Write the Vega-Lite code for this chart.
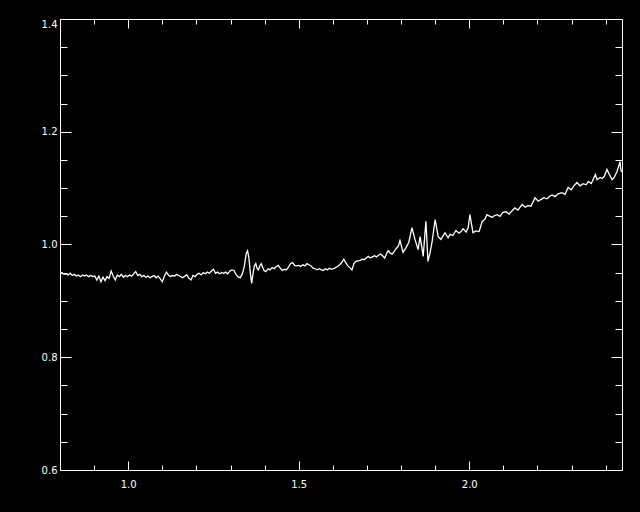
{
  "$schema": "https://vega.github.io/schema/vega-lite/v6.json",
  "width": 562,
  "height": 451,
  "autosize": {"type": "none"},
  "padding": {"left": 60, "top": 19, "right": 18, "bottom": 42},
  "background": "black",
  "config": {
    "view": {"stroke": null},
    "axis": {
      "domainColor": "white", "tickColor": "white", "labelColor": "white",
      "labelFont": "DejaVu Sans", "labelFontSize": 10, "grid": false,
      "domainWidth": 1, "tickWidth": 1, "labelOverlap": false, "labelFlush": false, "title": null
    }
  },
  "data": {"values": [
    {"x":0.800,"y":0.949},{"x":0.806,"y":0.950},{"x":0.812,"y":0.947},{"x":0.818,"y":0.948},{"x":0.824,"y":0.946},
    {"x":0.830,"y":0.949},{"x":0.836,"y":0.945},{"x":0.842,"y":0.947},{"x":0.848,"y":0.944},{"x":0.854,"y":0.946},
    {"x":0.860,"y":0.943},{"x":0.866,"y":0.946},{"x":0.872,"y":0.944},{"x":0.878,"y":0.946},{"x":0.884,"y":0.943},
    {"x":0.890,"y":0.945},{"x":0.896,"y":0.943},{"x":0.902,"y":0.944},{"x":0.908,"y":0.937},{"x":0.914,"y":0.944},
    {"x":0.920,"y":0.934},{"x":0.926,"y":0.942},{"x":0.932,"y":0.936},{"x":0.938,"y":0.943},{"x":0.944,"y":0.940},
    {"x":0.950,"y":0.953},{"x":0.956,"y":0.944},{"x":0.962,"y":0.937},{"x":0.968,"y":0.946},{"x":0.974,"y":0.943},
    {"x":0.980,"y":0.947},{"x":0.986,"y":0.942},{"x":0.992,"y":0.945},{"x":0.998,"y":0.943},{"x":1.004,"y":0.946},
    {"x":1.010,"y":0.944},{"x":1.016,"y":0.948},{"x":1.022,"y":0.952},{"x":1.028,"y":0.945},{"x":1.034,"y":0.947},
    {"x":1.040,"y":0.943},{"x":1.046,"y":0.945},{"x":1.052,"y":0.942},{"x":1.058,"y":0.944},{"x":1.064,"y":0.941},
    {"x":1.070,"y":0.943},{"x":1.076,"y":0.945},{"x":1.082,"y":0.941},{"x":1.088,"y":0.944},{"x":1.094,"y":0.939},
    {"x":1.100,"y":0.934},{"x":1.106,"y":0.944},{"x":1.112,"y":0.951},{"x":1.118,"y":0.946},{"x":1.124,"y":0.943},
    {"x":1.130,"y":0.945},{"x":1.136,"y":0.944},{"x":1.142,"y":0.947},{"x":1.148,"y":0.945},{"x":1.154,"y":0.943},
    {"x":1.160,"y":0.941},{"x":1.166,"y":0.944},{"x":1.172,"y":0.946},{"x":1.178,"y":0.940},{"x":1.184,"y":0.937},
    {"x":1.190,"y":0.945},{"x":1.196,"y":0.943},{"x":1.202,"y":0.947},{"x":1.208,"y":0.949},{"x":1.214,"y":0.946},
    {"x":1.220,"y":0.950},{"x":1.226,"y":0.948},{"x":1.232,"y":0.951},{"x":1.238,"y":0.949},{"x":1.244,"y":0.953},
    {"x":1.250,"y":0.956},{"x":1.256,"y":0.949},{"x":1.262,"y":0.951},{"x":1.268,"y":0.948},{"x":1.274,"y":0.950},
    {"x":1.280,"y":0.949},{"x":1.286,"y":0.951},{"x":1.292,"y":0.948},{"x":1.298,"y":0.953},{"x":1.304,"y":0.955},
    {"x":1.310,"y":0.954},{"x":1.316,"y":0.947},{"x":1.322,"y":0.943},{"x":1.328,"y":0.941},{"x":1.334,"y":0.947},
    {"x":1.340,"y":0.960},{"x":1.346,"y":0.984},{"x":1.350,"y":0.989},{"x":1.354,"y":0.976},{"x":1.358,"y":0.950},
    {"x":1.362,"y":0.931},{"x":1.366,"y":0.948},{"x":1.370,"y":0.962},{"x":1.374,"y":0.966},{"x":1.378,"y":0.958},
    {"x":1.382,"y":0.955},{"x":1.386,"y":0.962},{"x":1.390,"y":0.966},{"x":1.394,"y":0.960},{"x":1.398,"y":0.954},
    {"x":1.404,"y":0.952},{"x":1.410,"y":0.957},{"x":1.416,"y":0.955},{"x":1.422,"y":0.959},{"x":1.428,"y":0.957},
    {"x":1.434,"y":0.961},{"x":1.440,"y":0.963},{"x":1.446,"y":0.958},{"x":1.452,"y":0.954},{"x":1.458,"y":0.956},
    {"x":1.464,"y":0.955},{"x":1.470,"y":0.960},{"x":1.476,"y":0.966},{"x":1.482,"y":0.968},{"x":1.488,"y":0.963},
    {"x":1.494,"y":0.962},{"x":1.500,"y":0.963},{"x":1.506,"y":0.961},{"x":1.512,"y":0.964},{"x":1.518,"y":0.962},
    {"x":1.524,"y":0.966},{"x":1.530,"y":0.964},{"x":1.536,"y":0.962},{"x":1.542,"y":0.958},{"x":1.548,"y":0.957},
    {"x":1.554,"y":0.955},{"x":1.560,"y":0.957},{"x":1.566,"y":0.955},{"x":1.572,"y":0.954},{"x":1.578,"y":0.957},
    {"x":1.584,"y":0.955},{"x":1.590,"y":0.958},{"x":1.596,"y":0.956},{"x":1.602,"y":0.957},{"x":1.608,"y":0.959},
    {"x":1.614,"y":0.961},{"x":1.620,"y":0.964},{"x":1.626,"y":0.968},{"x":1.632,"y":0.974},{"x":1.638,"y":0.968},
    {"x":1.644,"y":0.962},{"x":1.650,"y":0.959},{"x":1.656,"y":0.955},{"x":1.662,"y":0.966},{"x":1.668,"y":0.970},
    {"x":1.674,"y":0.971},{"x":1.680,"y":0.972},{"x":1.686,"y":0.974},{"x":1.692,"y":0.973},{"x":1.698,"y":0.976},
    {"x":1.704,"y":0.979},{"x":1.710,"y":0.976},{"x":1.716,"y":0.978},{"x":1.722,"y":0.980},{"x":1.728,"y":0.978},
    {"x":1.734,"y":0.981},{"x":1.740,"y":0.983},{"x":1.746,"y":0.980},{"x":1.752,"y":0.976},{"x":1.758,"y":0.984},
    {"x":1.762,"y":0.989},{"x":1.768,"y":0.985},{"x":1.774,"y":0.983},{"x":1.780,"y":0.988},{"x":1.786,"y":0.993},
    {"x":1.792,"y":0.997},{"x":1.797,"y":1.007},{"x":1.806,"y":0.986},{"x":1.815,"y":0.995},{"x":1.823,"y":1.004},
    {"x":1.832,"y":1.030},{"x":1.841,"y":1.009},{"x":1.850,"y":0.991},{"x":1.856,"y":1.014},{"x":1.865,"y":0.979},
    {"x":1.873,"y":1.041},{"x":1.879,"y":0.970},{"x":1.885,"y":0.985},{"x":1.891,"y":1.004},{"x":1.900,"y":1.044},
    {"x":1.909,"y":1.014},{"x":1.917,"y":1.009},{"x":1.929,"y":1.021},{"x":1.938,"y":1.012},{"x":1.944,"y":1.018},
    {"x":1.952,"y":1.016},{"x":1.961,"y":1.025},{"x":1.970,"y":1.020},{"x":1.976,"y":1.023},{"x":1.982,"y":1.028},
    {"x":1.991,"y":1.022},{"x":1.997,"y":1.030},{"x":2.002,"y":1.053},{"x":2.011,"y":1.021},{"x":2.020,"y":1.024},
    {"x":2.029,"y":1.023},{"x":2.038,"y":1.041},{"x":2.046,"y":1.045},{"x":2.052,"y":1.053},{"x":2.061,"y":1.050},
    {"x":2.067,"y":1.048},{"x":2.073,"y":1.051},{"x":2.082,"y":1.053},{"x":2.090,"y":1.050},{"x":2.099,"y":1.057},
    {"x":2.108,"y":1.058},{"x":2.117,"y":1.054},{"x":2.126,"y":1.060},{"x":2.134,"y":1.065},{"x":2.143,"y":1.061},
    {"x":2.155,"y":1.071},{"x":2.164,"y":1.066},{"x":2.172,"y":1.069},{"x":2.181,"y":1.068},{"x":2.193,"y":1.083},
    {"x":2.202,"y":1.077},{"x":2.211,"y":1.080},{"x":2.219,"y":1.083},{"x":2.228,"y":1.081},{"x":2.237,"y":1.086},
    {"x":2.243,"y":1.088},{"x":2.252,"y":1.085},{"x":2.261,"y":1.090},{"x":2.272,"y":1.092},{"x":2.281,"y":1.089},
    {"x":2.290,"y":1.101},{"x":2.299,"y":1.097},{"x":2.307,"y":1.104},{"x":2.316,"y":1.110},{"x":2.325,"y":1.104},
    {"x":2.334,"y":1.108},{"x":2.343,"y":1.106},{"x":2.349,"y":1.112},{"x":2.358,"y":1.108},{"x":2.364,"y":1.116},
    {"x":2.370,"y":1.124},{"x":2.375,"y":1.115},{"x":2.384,"y":1.119},{"x":2.390,"y":1.117},{"x":2.396,"y":1.121},
    {"x":2.404,"y":1.133},{"x":2.410,"y":1.125},{"x":2.419,"y":1.115},{"x":2.425,"y":1.119},{"x":2.433,"y":1.129},
    {"x":2.439,"y":1.140},{"x":2.442,"y":1.147},{"x":2.445,"y":1.131},{"x":2.448,"y":1.129}
  ]},
  "layer": [
    {
      "mark": {"type": "line", "color": "white", "strokeWidth": 1.3, "clip": true},
      "encoding": {
        "x": {
          "field": "x", "type": "quantitative",
          "scale": {"domain": [0.8, 2.448], "nice": false, "zero": false},
          "axis": {
            "orient": "bottom",
            "values": [0.8,0.9,1.0,1.1,1.2,1.3,1.4,1.5,1.6,1.7,1.8,1.9,2.0,2.1,2.2,2.3,2.4],
            "labelExpr": "abs(datum.value*2 - round(datum.value*2)) < 0.001 ? format(datum.value, '.1f') : ''",
            "tickSize": {"condition": {"test": "abs(datum.value*2 - round(datum.value*2)) < 0.001", "value": -9}, "value": -5},
            "labelPadding": 18
          }
        },
        "y": {
          "field": "y", "type": "quantitative",
          "scale": {"domain": [0.6, 1.4], "nice": false, "zero": false},
          "axis": {
            "orient": "left",
            "values": [0.6,0.65,0.7,0.75,0.8,0.85,0.9,0.95,1.0,1.05,1.1,1.15,1.2,1.25,1.3,1.35,1.4],
            "labelExpr": "abs(datum.value*5 - round(datum.value*5)) < 0.001 ? format(datum.value, '.1f') : ''",
            "tickSize": {"condition": {"test": "abs(datum.value*5 - round(datum.value*5)) < 0.001", "value": -11}, "value": -7},
            "labelBaseline": {"condition": {"test": "datum.value > 1.39", "value": "top"}, "value": "middle"},
            "labelPadding": 14
          }
        }
      }
    },
    {
      "mark": {"type": "line", "opacity": 0},
      "encoding": {
        "x": {
          "field": "x", "type": "quantitative",
          "axis": {
            "orient": "top", "labels": false,
            "values": [0.8,0.9,1.0,1.1,1.2,1.3,1.4,1.5,1.6,1.7,1.8,1.9,2.0,2.1,2.2,2.3,2.4],
            "tickSize": {"condition": {"test": "abs(datum.value*2 - round(datum.value*2)) < 0.001", "value": -9}, "value": -5}
          }
        },
        "y": {
          "field": "y", "type": "quantitative",
          "axis": {
            "orient": "right", "labels": false,
            "values": [0.6,0.65,0.7,0.75,0.8,0.85,0.9,0.95,1.0,1.05,1.1,1.15,1.2,1.25,1.3,1.35,1.4],
            "tickSize": {"condition": {"test": "abs(datum.value*5 - round(datum.value*5)) < 0.001", "value": -11}, "value": -7}
          }
        }
      }
    }
  ],
  "resolve": {"axis": {"x": "independent", "y": "independent"}}
}
